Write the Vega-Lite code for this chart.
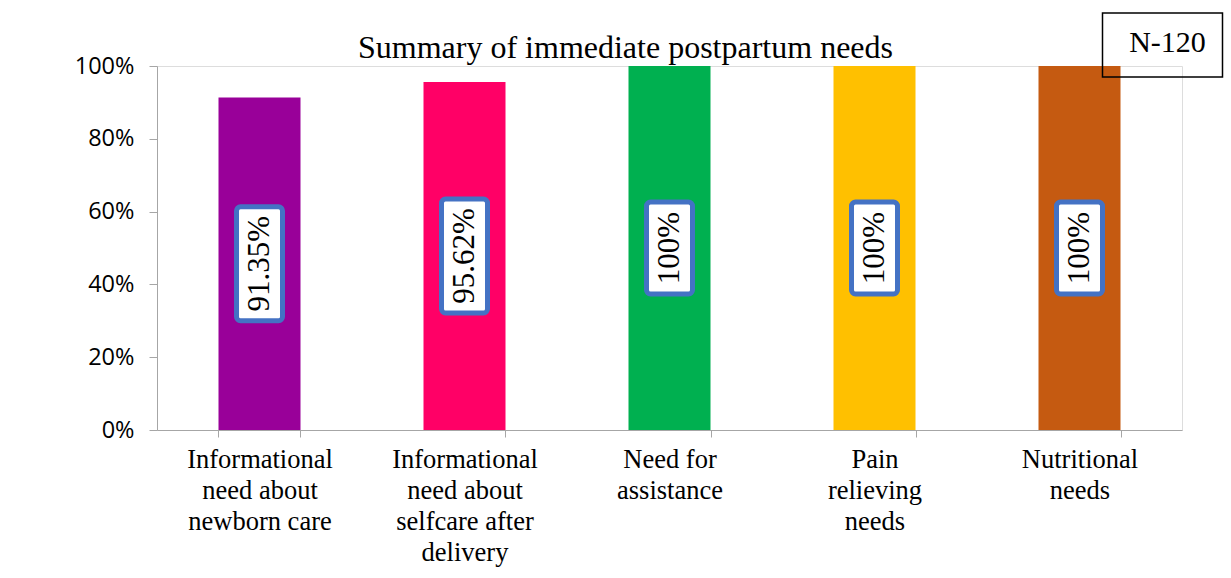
{
  "$schema": "https://vega.github.io/schema/vega-lite/v6.json",
  "width": 1025,
  "height": 364,
  "autosize": {"type": "none"},
  "padding": {"left": 157, "top": 66, "right": 49, "bottom": 148},
  "background": "white",
  "title": {
    "text": "Summary of immediate postpartum needs",
    "font": "Liberation Serif",
    "fontSize": 32,
    "fontWeight": "normal",
    "color": "#000000",
    "anchor": "middle",
    "frame": "group",
    "dx": -44,
    "baseline": "alphabetic",
    "offset": -80
  },
  "data": {
    "values": [
      {"need": "Informational need about newborn care", "value": 0.9135, "label": "91.35%"},
      {"need": "Informational need about selfcare after delivery", "value": 0.9562, "label": "95.62%"},
      {"need": "Need for assistance", "value": 1.0, "label": "100%"},
      {"need": "Pain relieving needs", "value": 1.0, "label": "100%"},
      {"need": "Nutritional needs", "value": 1.0, "label": "100%"}
    ]
  },
  "resolve": {"scale": {"y": "independent"}, "axis": {"y": "independent"}},
  "layer": [
    {
      "mark": {"type": "bar"},
      "encoding": {
        "x": {
          "field": "need",
          "type": "nominal",
          "sort": null,
          "scale": {"paddingInner": 0.6, "paddingOuter": 0.3},
          "axis": {
            "title": null,
            "labelAngle": 0,
            "labelFont": "Liberation Serif",
            "labelFontSize": 26.5,
            "labelLineHeight": 31,
            "labelColor": "#000000",
            "labelPadding": 9,
            "labelLimit": 400,
            "tickBand": "extent",
            "tickSize": 7,
            "tickColor": "#A6A6A6",
            "domainColor": "#A6A6A6",
            "labelExpr": "datum.value == 'Informational need about newborn care' ? ['Informational', 'need about', 'newborn care'] : datum.value == 'Informational need about selfcare after delivery' ? ['Informational', 'need about', 'selfcare after', 'delivery'] : datum.value == 'Need for assistance' ? ['Need for', 'assistance'] : datum.value == 'Pain relieving needs' ? ['Pain', 'relieving', 'needs'] : datum.value == 'Nutritional needs' ? ['Nutritional', 'needs'] : ''"
          }
        },
        "y": {
          "field": "value",
          "type": "quantitative",
          "scale": {"domain": [0, 1], "nice": false},
          "axis": {
            "title": null,
            "values": [0, 0.2, 0.4, 0.6, 0.8, 1],
            "format": ".0%",
            "grid": false,
            "labelFont": "Open Sans",
            "labelFontSize": 23.5,
            "labelColor": "#000000",
            "labelPadding": 15,
            "tickSize": 8,
            "tickColor": "#A6A6A6",
            "domainColor": "#A6A6A6"
          }
        },
        "color": {
          "field": "need",
          "type": "nominal",
          "sort": null,
          "legend": null,
          "scale": {
            "domain": ["Informational need about newborn care", "Informational need about selfcare after delivery", "Need for assistance", "Pain relieving needs", "Nutritional needs"],
            "range": ["#990099", "#FF0066", "#00B050", "#FFC000", "#C55A11"]
          }
        }
      }
    },
    {
      "encoding": {
        "x": {"field": "need", "type": "nominal", "sort": null},
        "y": {"field": "value", "type": "quantitative", "scale": {"domain": [0, 2], "nice": false}, "axis": null}
      },
      "layer": [
        {
          "mark": {"type": "point", "size": 4, "filled": true, "fill": "#FFFFFF", "stroke": "#4472C4", "strokeWidth": 5, "opacity": 1, "fillOpacity": 1, "strokeOpacity": 1},
          "encoding": {
            "shape": {
              "condition": {"test": "datum.value < 1", "value": "M-19,-57H19A4,4 0 0 1 23,-53V53A4,4 0 0 1 19,57H-19A4,4 0 0 1 -23,53V-53A4,4 0 0 1 -19,-57Z"},
              "value": "M-19,-46H19A4,4 0 0 1 23,-42V42A4,4 0 0 1 19,46H-19A4,4 0 0 1 -23,42V-42A4,4 0 0 1 -19,-46Z"
            }
          }
        },
        {
          "mark": {"type": "text", "angle": 270, "align": "center", "baseline": "middle", "font": "Liberation Serif", "fontSize": 31, "color": "#000000"},
          "encoding": {
            "text": {"field": "label"}
          }
        }
      ]
    },
    {
      "data": {"values": [{"note": "N-120"}]},
      "encoding": {
        "x": {"datum": "Nutritional needs"},
        "y": {"datum": 1, "type": "quantitative", "scale": {"domain": [0, 1], "nice": false}, "axis": null}
      },
      "layer": [
        {
          "mark": {"type": "point", "size": 4, "filled": false, "stroke": "#000000", "strokeWidth": 1.5, "opacity": 1, "shape": "M-60,-32H60V32H-60Z", "xOffset": 83, "yOffset": -21}
        },
        {
          "mark": {"type": "text", "font": "Liberation Serif", "fontSize": 30, "color": "#000000", "align": "center", "baseline": "middle", "xOffset": 88, "yOffset": -23},
          "encoding": {
            "text": {"field": "note"}
          }
        }
      ]
    }
  ]
}
